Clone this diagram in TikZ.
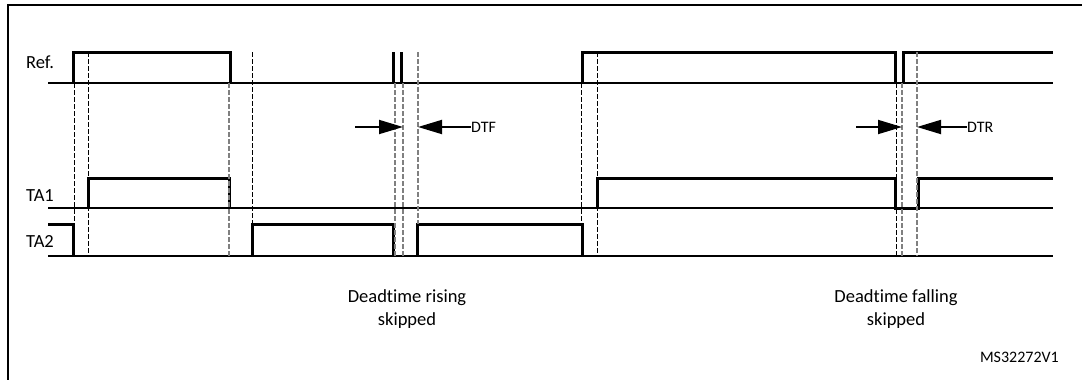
\documentclass[tikz,border=0pt]{standalone}
\usepackage{fontspec}
\setmainfont[Ligatures=NoCommon]{Carlito}
\usetikzlibrary{arrows.meta, calc}
\definecolor{color1}{RGB}{0, 0, 0}
\definecolor{color2}{RGB}{128, 128, 128}

\begin{document}
\begin{tikzpicture}[x=1pt, y=-1pt,
    sig/.style={line width=3pt, color1},
    axis/.style={line width=2.3pt, color1},
    dline/.style={line width=0.9pt, dash pattern=on 4.5pt off 2.5pt, color1},
    gline/.style={line width=1.3pt, dash pattern=on 4.5pt off 2.5pt, color2},
    dtarrow/.style={line width=1.8pt, -{Triangle[length=24pt, width=14pt]}},
    lbl/.style={font=\fontsize{16}{19}\selectfont, inner sep=0pt},
    signame/.style={font=\fontsize{18.5}{22}\selectfont, inner sep=0pt, anchor=base west}]
        \useasboundingbox (0,0) rectangle (1082,380);
        \draw[line width=2.3pt] (8,380) -- (8,5) -- (1082,5);
        % signal names
        \node (ref) [signame] at (26,68) {Ref.};
        \node (ta1) [signame] at (26,201) {TA1};
        \node (ta2) [signame] at (26,247) {TA2};
        % axes
        \draw[axis] (48,83) -- (1053,83);
        \draw[axis] (48,208) -- (1053,208);
        \draw[axis] (48,256) -- (1053,256);
        % Ref.
        \draw[sig] (73,83) -- (73,52) -- (230,52) -- (230,83);
        \draw[sig] (393,83) -- (393,52) (401,52) -- (401,83);
        \draw[sig] (582,83) -- (582,52) -- (895,52) -- (895,83);
        \draw[sig] (903,83) -- (903,52) -- (1053,52);
        % TA1
        \draw[sig] (88,208) -- (88,178) -- (229,178) -- (229,208);
        \draw[sig] (597,208) -- (597,178) -- (895,178) -- (895,208) -- (918,208) -- (918,178) -- (1053,178);
        % TA2
        \draw[sig] (48,224) -- (73,224) -- (73,256);
        \draw[sig] (252,256) -- (252,224) -- (393,224) -- (393,256);
        \draw[sig] (417,256) -- (417,224) -- (582,224) -- (582,256);
        % deadtime markers
        \draw[dline] (74,83) -- (74,256);
        \draw[dline] (88,52) -- (88,256);
        \draw[gline] (229,83) -- (229,256);
        \draw[dline] (252,52) -- (252,224);
        \draw[gline] (395,83) -- (395,256);
        \draw[gline] (403,83) -- (403,256);
        \draw[gline] (418,52) -- (418,224);
        \draw[dline] (581,83) -- (581,224);
        \draw[dline] (597,52) -- (597,256);
        \draw[dline] (896,83) -- (896,256);
        \draw[gline] (902,83) -- (902,256);
        \draw[gline] (917,52) -- (917,256);
        % DTF / DTR
        \coordinate (dtf1) at (355,127);
        \coordinate (dtf2) at (403,127);
        \coordinate (dtf3) at (418,127);
        \node (dtf) [lbl, anchor=west] at (471,127) {DTF};
        \draw[dtarrow] (dtf1) -- (dtf2);
        \draw[dtarrow] (dtf.west) -- (dtf3);
        \coordinate (dtr1) at (856,127);
        \coordinate (dtr2) at (902,127);
        \coordinate (dtr3) at (917,127);
        \node (dtr) [lbl, anchor=west] at (967,127) {DTR};
        \draw[dtarrow] (dtr1) -- (dtr2);
        \draw[dtarrow] (dtr.west) -- (dtr3);
        % notes
        \node (rise) [align=center, font=\fontsize{18.5}{23}\selectfont] at (407,309) {Deadtime rising\\skipped};
        \node (fall) [align=center, font=\fontsize{18.5}{23}\selectfont] at (896,309) {Deadtime falling\\skipped};
        \node (msid) [lbl, anchor=east] at (1059,357) {MS32272V1};
\end{tikzpicture}
\end{document}
